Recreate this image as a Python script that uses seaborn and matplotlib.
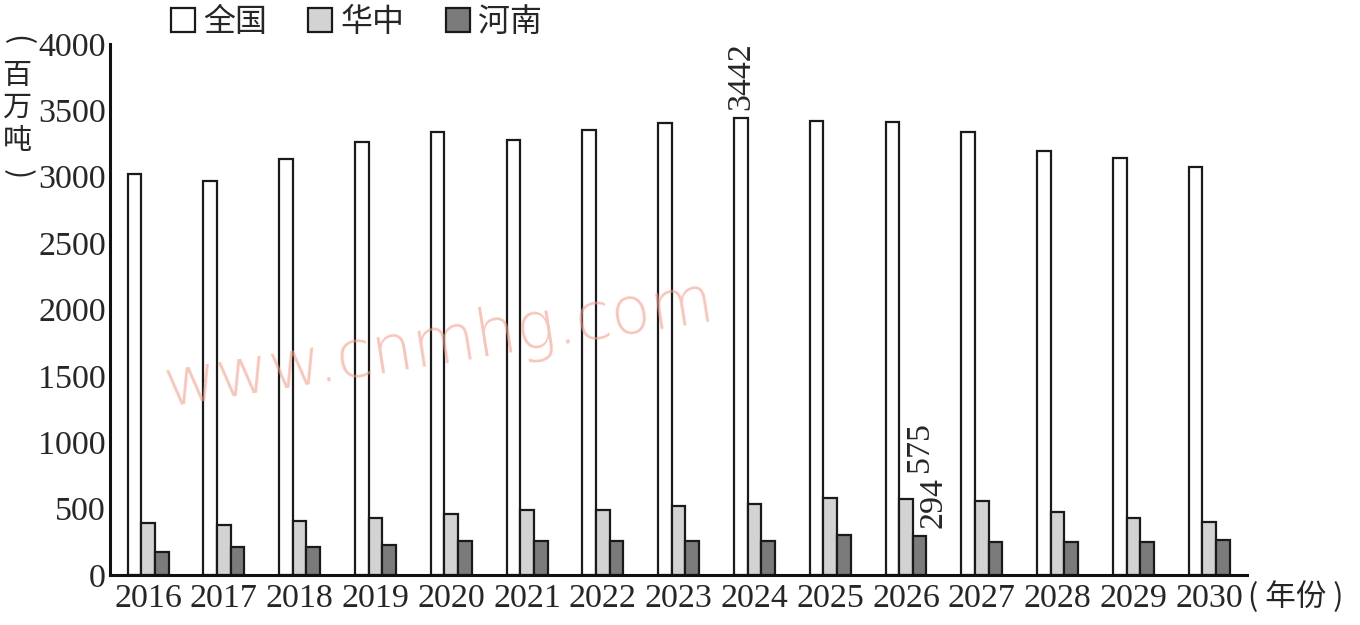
import matplotlib
matplotlib.use("Agg")
import matplotlib.pyplot as plt
import seaborn as sns
import pandas as pd
from matplotlib.ticker import FixedLocator
from matplotlib.patches import Patch

years = [str(y) for y in range(2016, 2031)]
series_names = ["全国", "华中", "河南"]
quanguo = [3020, 2965, 3135, 3260, 3335, 3275, 3350, 3405, 3442, 3422, 3415, 3335, 3195, 3140, 3075]
huazhong = [395, 380, 405, 428, 458, 488, 488, 520, 537, 578, 575, 557, 472, 433, 396]
henan = [175, 213, 213, 223, 253, 258, 258, 258, 253, 298, 294, 251, 246, 251, 266]
yticks = [0, 500, 1000, 1500, 2000, 2500, 3000, 3500, 4000]
colors = ["#ffffff", "#d3d3d3", "#7b7b7b"]

df = pd.DataFrame({
    "year": years * 3,
    "series": [series_names[0]] * 15 + [series_names[1]] * 15 + [series_names[2]] * 15,
    "value": quanguo + huazhong + henan,
})

sns.set_theme(style="white")
plt.rcParams["font.family"] = ["Liberation Serif", "Noto Sans CJK SC", "DejaVu Sans"]

W, H = 1360, 625
fig = plt.figure(figsize=(13.6, 6.25), dpi=100)
ax = fig.add_axes([0.081, 0.08, 0.836, 0.8496])

sns.barplot(data=df, x="year", y="value", hue="series", palette=colors,
            width=0.54, edgecolor="#1a1a1a", linewidth=1.6, saturation=1,
            ax=ax, legend=False)

ax.set_xlim(-0.5, len(years) - 0.5)
ax.set_ylim(0, 4000)
ax.set_yticks(yticks)
ax.set_yticklabels([str(v) for v in yticks], fontsize=24.5)
ax.set_xticks(range(len(years)))
ax.set_xticklabels(years, fontsize=24.5)
ax.xaxis.set_minor_locator(FixedLocator([i + 0.5 for i in range(-1, len(years))]))
ax.tick_params(axis="x", which="major", length=0, pad=6)
ax.tick_params(axis="x", which="minor", direction="in", length=8, width=2.2, color="#111111")
ax.tick_params(axis="y", which="major", direction="in", length=8, width=2.2, color="#111111", pad=3)
ax.set_xlabel("")
ax.set_ylabel("")
for s in ["top", "right"]:
    ax.spines[s].set_visible(False)
for s in ["left", "bottom"]:
    ax.spines[s].set_linewidth(2.2)
    ax.spines[s].set_color("#111111")
ax.grid(False)

# annotations
ax.text(8 - 0.18, quanguo[8] + 60, str(quanguo[8]), rotation=90, ha="center", va="bottom", fontsize=24.5)
ax.text(10 + 0.18, huazhong[10] + 200, str(huazhong[10]), rotation=90, ha="center", va="bottom", fontsize=24.5)
ax.text(10 + 0.36, henan[10] + 60, str(henan[10]), rotation=90, ha="center", va="bottom", fontsize=24.5)

# y-axis unit label (vertical)
cjk = ["Noto Sans CJK SC"]
xl = 17 / W
fig.text(xl, 1 - 40 / H, "(", fontsize=22, ha="center", va="center", rotation=-90, family=cjk)
for yy, ch in zip([76, 108, 141], ["百", "万", "吨"]):
    fig.text(xl, 1 - yy / H, ch, fontsize=21, ha="center", va="center", family=cjk)
fig.text(xl, 1 - 174 / H, ")", fontsize=22, ha="center", va="center", rotation=-90, family=cjk)

# x unit label
fig.text(1248 / W, 1 - 597 / H, "( 年份 )", fontsize=22, ha="left", va="center", family=cjk)

# legend
handles = [Patch(facecolor=c, edgecolor="#1a1a1a", linewidth=1.6) for c in colors]
fig.legend(handles, series_names, loc="center", bbox_to_anchor=(0.262, 1 - 22 / H), ncol=3,
           frameon=False, handlelength=0.75, handleheight=0.75,
           handletextpad=0.25, columnspacing=1.3, prop={"family": cjk, "size": 23})

# watermark
fig.text(440 / W, 1 - 345 / H, "www.cnmhg.com", fontsize=47, color="#f0a090", alpha=0.6,
         rotation=9, ha="center", va="center", family=["DejaVu Sans"], fontweight="light")

fig.savefig("out.png", dpi=100)
